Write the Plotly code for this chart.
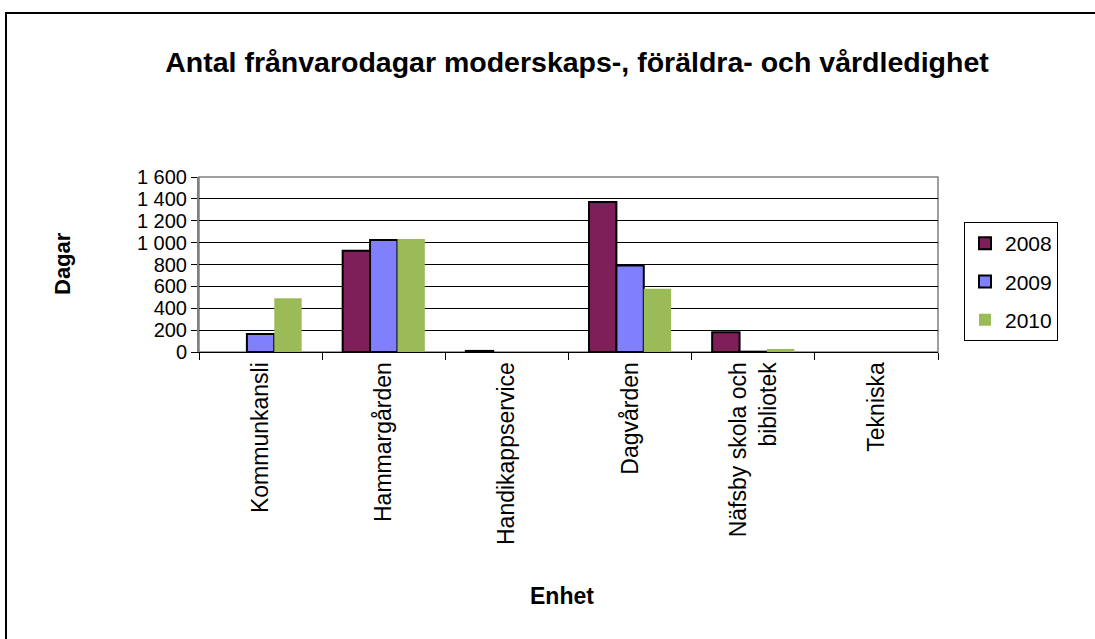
import plotly.graph_objects as go

categories = ["Kommunkansli", "Hammargården", "Handikappservice", "Dagvården",
              "Näfsby skola och<br>bibliotek", "Tekniska"]
years = ["2008", "2009", "2010"]
values_2008 = [None, 926, 10, 1371, 180, None]
values_2009 = [165, 1024, None, 790, 3, None]
values_2010 = [492, 1033, None, 579, 28, None]
y_ticks = [0, 200, 400, 600, 800, 1000, 1200, 1400, 1600]
y_tick_labels = ["0", "200", "400", "600", "800", "1 000", "1 200", "1 400", "1 600"]

colors = ["#7F1F5A", "#8080FF", "#9BBB59"]
outlines = [2, 2, 0]
series = [values_2008, values_2009, values_2010]

W, H = 1095, 639
L, R, T, B = 199, 938, 177, 352

fig = go.Figure()
for i, (name, vals) in enumerate(zip(years, series)):
    fig.add_trace(go.Bar(
        x=categories, y=vals, name=name, legendgroup=name,
        marker=dict(color=colors[i], line=dict(color="#000000", width=outlines[i])),
    ))

def px2paper_x(px):
    return (px - L) / (R - L)

def px2paper_y(py):
    return (B - py) / (B - T)

font_family = "Liberation Sans, Arial, sans-serif"

fig.update_layout(
    width=W, height=H,
    margin=dict(l=L, r=W - R, t=T, b=H - B, autoexpand=False),
    paper_bgcolor="white", plot_bgcolor="white",
    font=dict(family=font_family, color="#000000", size=22),
    barmode="group", bargap=0.333, bargroupgap=0,
    title=dict(text="<b>Antal frånvarodagar moderskaps-, föräldra- och vårdledighet</b>",
               font=dict(size=28.5, family=font_family, color="#000000"),
               x=px2paper_x(577), xref="paper", xanchor="center",
               y=1 - 62 / H, yref="container", yanchor="middle"),
    showlegend=True,
    legend=dict(x=px2paper_x(964), y=px2paper_y(222), xanchor="left", yanchor="top",
                bordercolor="#000000", borderwidth=1, bgcolor="white",
                font=dict(size=21, family=font_family), tracegroupgap=8,
                itemwidth=30),
    xaxis=dict(tickangle=-90, ticks="outside", tickson="boundaries", ticklen=7,
               tickcolor="#000000", showline=True, linecolor="#000000", linewidth=1,
               tickfont=dict(size=23, family=font_family), showgrid=False),
    yaxis=dict(range=[0, 1600], tickvals=y_ticks, ticktext=y_tick_labels,
               ticks="outside", ticklen=6, tickcolor="#000000",
               showline=True, linecolor="#808080", linewidth=2,
               showgrid=True, gridcolor="#000000", gridwidth=1,
               zeroline=False, tickfont=dict(size=20, family=font_family)),
    shapes=[
        dict(type="rect", xref="x domain", yref="y domain", x0=0, x1=1, y0=0, y1=1,
             line=dict(color="#808080", width=1.5), layer="below"),
        dict(type="rect", xref="paper", yref="paper",
             x0=px2paper_x(6), x1=px2paper_x(1120), y0=px2paper_y(680), y1=px2paper_y(13),
             line=dict(color="#000000", width=2)),
    ],
    annotations=[
        dict(text="<b>Dagar</b>", xref="paper", yref="paper", x=px2paper_x(62), y=px2paper_y(264),
             textangle=-90, showarrow=False, font=dict(size=22, family=font_family),
             xanchor="center", yanchor="middle"),
        dict(text="<b>Enhet</b>", xref="paper", yref="paper", x=px2paper_x(562), y=px2paper_y(596),
             showarrow=False, font=dict(size=23, family=font_family),
             xanchor="center", yanchor="middle"),
    ],
)

fig.write_html("out.html", config={"displayModeBar": False},
               post_script="document.body.style.margin='0';document.body.style.overflow='hidden';")
